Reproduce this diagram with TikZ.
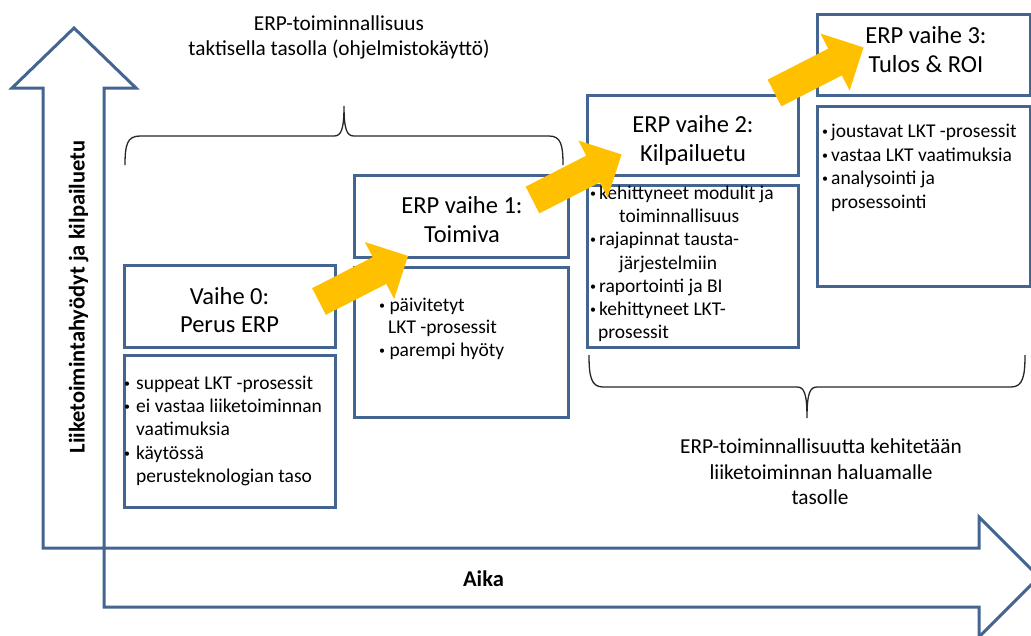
\documentclass[tikz,border=0pt]{standalone}
\usepackage{fontspec}
\setmainfont{Carlito}
\definecolor{frameblue}{RGB}{68,100,145}
\definecolor{gold}{HTML}{FFC000}
% block arrow: tail centre (#1,#2), turned by #3 degrees
\newcommand\yellowblock[3]{%
  \begin{scope}[shift={(#1,#2)}, rotate=#3]
    \fill[gold] (0,-15) -- (68,-15) -- (68,-32) -- (100,0) -- (68,32) -- (68,15) -- (0,15) -- cycle;
  \end{scope}}
% small list bullet centred on the anchor, text starting #1 further right
\newcommand\bul[1]{\makebox[0pt][c]{\raisebox{2pt}{\fontsize{12}{12}\selectfont\textbullet}}\hspace{#1}}
\begin{document}
\begin{tikzpicture}[x=1pt,y=-1pt,
  frame/.style={draw=frameblue, line width=3pt, fill=white, inner sep=0pt},
  axis/.style={draw=frameblue, line width=3pt, fill=white, line join=miter},
  ttl/.style={font=\fontsize{24.5}{29}\selectfont, anchor=base, inner sep=0pt},
  itm/.style={font=\fontsize{19.5}{23}\selectfont, anchor=base west, inner sep=0pt},
  lbl/.style={font=\fontsize{21.3}{25}\selectfont, anchor=base, inner sep=0pt},
  axlbl/.style={font=\fontsize{22.5}{26}\selectfont\bfseries, anchor=base, inner sep=0pt},
  brace/.style={draw=black!85, line width=1.3pt}]

\useasboundingbox (0,0) rectangle (1031,635);
\clip (0,0) rectangle (1031,635);

% axes
\path[axis] (43,548) -- (43,88) -- (12,88) -- (74,28) -- (136,88) -- (104,88) -- (104,548) -- cycle;
\path[axis] (104,548) -- (979,548) -- (979,517) -- (1039,577) -- (979,637) -- (979,607) -- (104,607) -- cycle;
\node[axlbl, rotate=90] (ylab) at (84.5,297) {Liiketoimintahyödyt ja kilpailuetu};
\node[axlbl] (xlab) at (483.5,586) {Aika};

% braces
\draw[brace] (125,165) .. controls (125,145) and (127,136) .. (140,136) -- (334,136)
  .. controls (341,136) and (344,130) .. (344,106) .. controls (344,130) and (347,136) .. (354,136)
  -- (549,136) .. controls (561,136) and (563,145) .. (563,165);
\draw[brace] (589,355) .. controls (589,376) and (591,387) .. (603,387) -- (797,387)
  .. controls (804,387) and (807,393) .. (807,418) .. controls (807,393) and (810,387) .. (817,387)
  -- (1011,387) .. controls (1023,387) and (1025,376) .. (1025,355);

\node[lbl] (toptxta) at (339,30.5) {ERP-toiminnallisuus};
\node[lbl] (toptxtb) at (339,55.5) {taktisella tasolla (ohjelmistokäyttö)};
\node[lbl] (bottxta) at (821,453) {ERP-toiminnallisuutta kehitetään};
\node[lbl] (bottxtb) at (821,479) {liiketoiminnan haluamalle};
\node[lbl] (bottxtc) at (820,504.5) {tasolle};

% phase 0
\node[frame, minimum width=211pt, minimum height=82pt] (t0) at (229.5,306) {};
\node[frame, minimum width=211pt, minimum height=152pt] (b0) at (229.5,431) {};
\node[ttl] (t0a) at (229.5,304.5) {Vaihe 0:};
\node[ttl] (t0b) at (229.5,332.5) {Perus ERP};
\node[itm] (b0a) at (127,389) {\bul{9pt}suppeat LKT -prosessit};
\node[itm] (b0b) at (127,412.3) {\bul{9pt}ei vastaa liiketoiminnan};
\node[itm] (b0c) at (136,435.6) {vaatimuksia};
\node[itm] (b0d) at (127,459) {\bul{9pt}käytössä};
\node[itm] (b0e) at (136,482.3) {perusteknologian taso};

% phase 1
\node[frame, minimum width=214pt, minimum height=82pt] (t1) at (461,216) {};
\node[frame, minimum width=214pt, minimum height=150pt] (b1) at (461,342) {};
\node[ttl] (t1a) at (462,213.5) {ERP vaihe 1:};
\node[ttl] (t1b) at (462,242.5) {Toimiva};
\node[itm] (b1a) at (382,311) {\bul{7.3pt}päivitetyt};
\node[itm] (b1b) at (388,333.5) {LKT -prosessit};
\node[itm] (b1c) at (382,356) {\bul{7.3pt}parempi hyöty};

% phase 2
\node[frame, minimum width=211pt, minimum height=80pt] (t2) at (692.5,135) {};
\node[frame, minimum width=211pt, minimum height=162pt] (b2) at (692.5,266) {};
\node[ttl] (t2a) at (693,132.5) {ERP vaihe 2:};
\node[ttl] (t2b) at (693,161.5) {Kilpailuetu};
\node[itm] (b2a) at (593,199.5) {\bul{6pt}kehittyneet modulit ja};
\node[itm] (b2b) at (619,222.7) {toiminnallisuus};
\node[itm] (b2c) at (593,245.9) {\bul{6pt}rajapinnat tausta-};
\node[itm] (b2d) at (619,269.1) {järjestelmiin};
\node[itm] (b2e) at (593,292.3) {\bul{6pt}raportointi ja BI};
\node[itm] (b2f) at (593,315.5) {\bul{6pt}kehittyneet LKT-};
\node[itm] (b2g) at (598,338.7) {prosessit};

% phase 3
\node[frame, minimum width=213pt, minimum height=81pt] (t3) at (923.5,54.5) {};
\node[frame, minimum width=213pt, minimum height=180pt] (b3) at (923.5,196) {};
\node[ttl] (t3a) at (926,43) {ERP vaihe 3:};
\node[ttl] (t3b) at (926,72) {Tulos \& ROI};
\node[itm] (b3a) at (825,137.5) {\bul{6pt}joustavat LKT -prosessit};
\node[itm] (b3b) at (825,161) {\bul{6pt}vastaa LKT vaatimuksia};
\node[itm] (b3c) at (825,184.5) {\bul{6pt}analysointi ja};
\node[itm] (b3d) at (831,208) {prosessointi};

% progress arrows
\yellowblock{319}{301.5}{27.1}
\yellowblock{532.5}{200}{27.1}
\yellowblock{774.5}{93}{27.1}
\end{tikzpicture}
\end{document}
